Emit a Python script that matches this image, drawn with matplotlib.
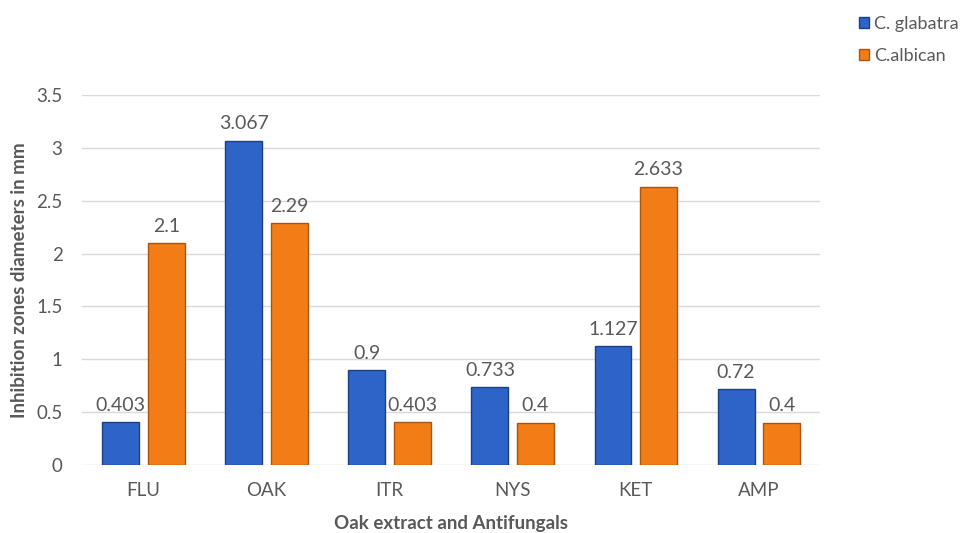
import numpy as np
import matplotlib.pyplot as plt

categories = ['FLU', 'OAK', 'ITR', 'NYS', 'KET', 'AMP']
glabatra = [0.403, 3.067, 0.9, 0.733, 1.127, 0.72]
albican = [2.1, 2.29, 0.403, 0.4, 2.633, 0.4]
glab_labels = ['0.403', '3.067', '0.9', '0.733', '1.127', '0.72']
alb_labels = ['2.1', '2.29', '0.403', '0.4', '2.633', '0.4']

plt.rcParams['font.family'] = ['Lato', 'DejaVu Sans']
grey = '#595959'

fig = plt.figure(figsize=(9.64, 5.33), dpi=100)
ax = fig.add_axes([0.085, 0.1276, 0.766, 0.6942])

x = np.arange(len(categories))
w = 0.30
off = 0.185
b1 = ax.bar(x - off, glabatra, w, color='#2e64c8', edgecolor='#1d3f86', linewidth=1.0,
            label='C. glabatra', zorder=3)
b2 = ax.bar(x + off, albican, w, color='#f27d16', edgecolor='#a95510', linewidth=1.0,
            label='C.albican', zorder=3)

for rect, lab in zip(b1, glab_labels):
    ax.annotate(lab, (rect.get_x() + rect.get_width() / 2, rect.get_height()),
                xytext=(0, 6), textcoords='offset points', ha='center', va='bottom',
                fontsize=14, color=grey)
for rect, lab in zip(b2, alb_labels):
    ax.annotate(lab, (rect.get_x() + rect.get_width() / 2, rect.get_height()),
                xytext=(0, 6), textcoords='offset points', ha='center', va='bottom',
                fontsize=14, color=grey)

ax.set_xlim(-0.5, len(categories) - 0.5)
ax.set_ylim(0, 3.5)
ax.set_yticks(np.arange(0, 3.51, 0.5))
ax.set_yticklabels(['0', '0.5', '1', '1.5', '2', '2.5', '3', '3.5'])
ax.set_xticks(x)
ax.set_xticklabels(categories)
ax.tick_params(axis='both', length=0, labelsize=13.5, colors=grey)
ax.tick_params(axis='y', pad=14)
ax.tick_params(axis='x', pad=12)
ax.yaxis.grid(True, color='#d9d9d9', linewidth=1.0, zorder=0)
for s in ax.spines.values():
    s.set_visible(False)

ax.set_ylabel('Inhibition zones diameters in mm', fontsize=13.5, fontweight='bold',
              color=grey, labelpad=6)
ax.set_xlabel('Oak extract and Antifungals', fontsize=13.5, fontweight='bold',
              color=grey, labelpad=12)

fig.legend(handles=[b1, b2], loc='upper left', bbox_to_anchor=(0.874, 1.0),
           frameon=False, fontsize=13, labelcolor=grey, handlelength=0.55,
           handleheight=0.55, handletextpad=0.3, labelspacing=0.85)

fig.savefig('out.png', dpi=100)
